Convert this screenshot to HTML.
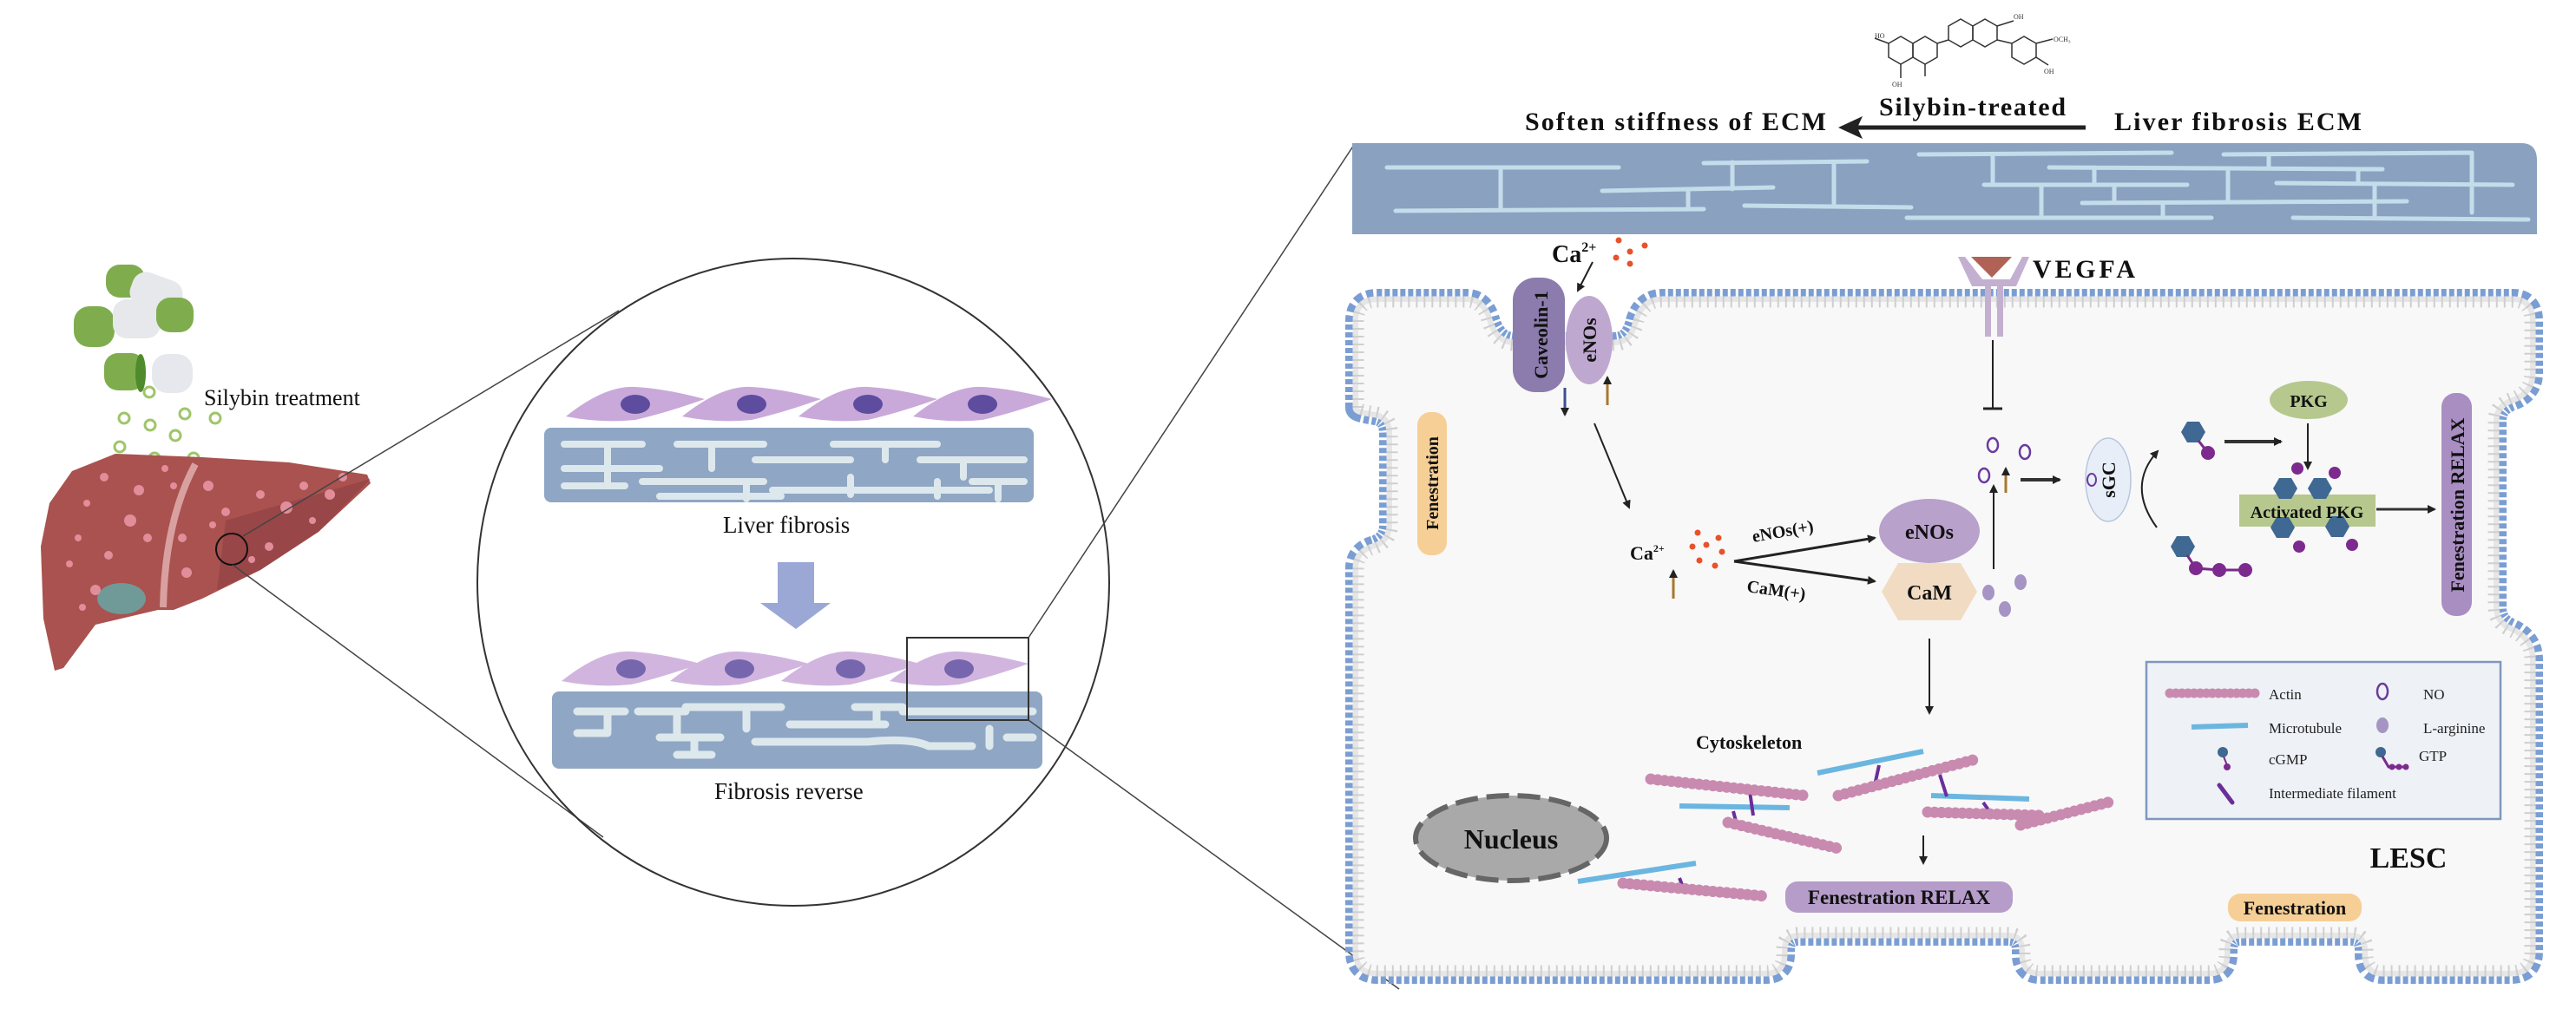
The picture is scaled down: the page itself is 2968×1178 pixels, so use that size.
<!DOCTYPE html>
<html><head><meta charset="utf-8"><style>
html,body{margin:0;padding:0;background:#fff;}
svg{display:block;}
text{font-family:"Liberation Serif",serif;}
</style></head><body>
<svg width="2968" height="1178" viewBox="0 0 2968 1178" xmlns="http://www.w3.org/2000/svg">
<defs>
<marker id="ah" markerWidth="10" markerHeight="10" refX="8" refY="5" orient="auto" markerUnits="userSpaceOnUse"><path d="M0,0 L10,5 L0,10 Z" fill="#222"/></marker>
<g id="hex"><polygon points="-14,0 -7,-12 7,-12 14,0 7,12 -7,12" fill="#3f6892"/></g>
<g id="cell"><path d="M-80,14 Q-35,-22 0,-20 Q35,-18 80,-6 Q35,10 0,18 Q-40,22 -80,14Z" fill="#c9a9da"/><ellipse cx="0" cy="0" rx="17" ry="11" fill="#5e4c9f"/></g>
</defs>

<!-- ===== LEFT: liver ===== -->
<g>
<rect x="122" y="305" width="45" height="38" rx="16" fill="#7fad4e"/>
<rect x="150" y="318" width="60" height="40" rx="16" fill="#e6e8eb" transform="rotate(20 180 338)"/>
<rect x="85" y="353" width="47" height="47" rx="18" fill="#7fad4e"/>
<rect x="130" y="345" width="55" height="45" rx="16" fill="#e6e8eb"/>
<rect x="180" y="343" width="43" height="40" rx="16" fill="#7fad4e"/>
<rect x="120" y="407" width="47" height="43" rx="16" fill="#7fad4e"/>
<ellipse cx="162" cy="430" rx="6" ry="22" fill="#4f8b2c"/>
<rect x="175" y="408" width="47" height="45" rx="18" fill="#e6e8ee"/>
<g fill="none" stroke="#9fc56a" stroke-width="3">
<circle cx="172" cy="452" r="6"/><circle cx="143" cy="482" r="6"/><circle cx="173" cy="490" r="6"/><circle cx="213" cy="477" r="6"/><circle cx="248" cy="482" r="6"/><circle cx="202" cy="502" r="6"/><circle cx="138" cy="515" r="6"/><circle cx="178" cy="528" r="6"/><circle cx="223" cy="528" r="6"/>
</g>
<path d="M133,523 L233,527 L333,533 L423,547 L427,557 L367,613 L300,657 L233,690 L200,703 L182,703 L110,720 L73,770 L63,773 L50,713 L47,630 L57,580 L83,543 Z" fill="#a9524f"/>
<path d="M260,600 L427,552 L367,613 L300,657 L250,680 Z" fill="#8f3f45" opacity="0.6"/>
<path d="M225,535 Q190,600 188,700" stroke="#d9a0a0" stroke-width="8" fill="none"/>
<ellipse cx="140" cy="690" rx="28" ry="18" fill="#6f9a98"/>
<g fill="#e28d9a">
<circle cx="120" cy="550" r="5"/><circle cx="160" cy="565" r="6"/><circle cx="100" cy="580" r="4"/><circle cx="150" cy="600" r="7"/><circle cx="90" cy="620" r="4"/><circle cx="170" cy="620" r="5"/><circle cx="125" cy="640" r="5"/><circle cx="200" cy="560" r="4"/><circle cx="240" cy="560" r="6"/><circle cx="260" cy="590" r="5"/><circle cx="300" cy="570" r="5"/><circle cx="330" cy="585" r="7"/><circle cx="350" cy="560" r="5"/><circle cx="380" cy="570" r="6"/><circle cx="395" cy="550" r="5"/><circle cx="310" cy="630" r="5"/><circle cx="290" cy="645" r="4"/><circle cx="210" cy="620" r="5"/><circle cx="215" cy="660" r="6"/><circle cx="110" cy="680" r="6"/><circle cx="95" cy="700" r="4"/><circle cx="80" cy="650" r="4"/><circle cx="190" cy="540" r="4"/><circle cx="360" cy="600" r="4"/><circle cx="245" cy="605" r="4"/>
</g>
<circle cx="267" cy="633" r="18" fill="none" stroke="#111" stroke-width="2"/>
</g>
<text x="235" y="467" font-size="26" fill="#111">Silybin treatment</text>

<line x1="280" y1="618" x2="713" y2="358" stroke="#444" stroke-width="1.5"/>
<line x1="268" y1="651" x2="695" y2="965" stroke="#444" stroke-width="1.5"/>

<!-- ===== MIDDLE circle ===== -->
<ellipse cx="914" cy="671" rx="364" ry="373" fill="none" stroke="#333" stroke-width="2"/>
<use href="#cell" x="732" y="466"/><use href="#cell" x="866" y="466"/><use href="#cell" x="1000" y="466"/><use href="#cell" x="1132" y="466"/>
<rect x="627" y="493" width="564" height="86" rx="8" fill="#8fa6c4"/>
<g stroke="#dde8ec" stroke-width="8" stroke-linecap="round" fill="none">
<path d="M650,512 H740 M700,512 V540 M650,540 H760 M780,512 H880 M820,512 V540 M870,530 H980 M960,512 H1080 M1020,512 V530 M1060,530 H1180 M1110,530 V550 M650,560 H720 M700,540 V560 M740,555 H880 M860,555 V575 M760,572 H900 M890,565 H1010 M980,550 V570 M1010,565 H1140 M1080,555 V572 M1120,555 H1180 M1150,555 V575"/>
</g>
<text x="833" y="614" font-size="27" fill="#111">Liver fibrosis</text>
<path d="M896,648 H938 V695 H957 L917,725 L876,695 H896 Z" fill="#9ba8d6"/>
<g opacity="0.85"><use href="#cell" x="727" y="771"/><use href="#cell" x="852" y="771"/><use href="#cell" x="980" y="771"/><use href="#cell" x="1105" y="771"/></g>
<rect x="636" y="797" width="565" height="89" rx="8" fill="#8fa6c4"/>
<g stroke="#dde8ec" stroke-width="9" stroke-linecap="round" fill="none">
<path d="M665,820 H720 M700,820 V842 M735,820 H790 M780,820 V850 M760,850 H830 M790,815 H900 M860,820 V840 M910,835 H1020 M985,815 H1040 M1010,815 V835 M1040,820 H1190 M665,845 H700 M870,855 H1000 Q1050,850 1070,860 H1120 M1140,840 V860 M1160,850 H1190 M780,870 H820 M800,850 V870"/>
</g>
<rect x="1045" y="735" width="140" height="95" fill="none" stroke="#333" stroke-width="2"/>
<text x="823" y="921" font-size="27" fill="#111">Fibrosis reverse</text>

<line x1="1185" y1="735" x2="1560" y2="167" stroke="#444" stroke-width="1.5"/>
<line x1="1185" y1="830" x2="1612" y2="1140" stroke="#444" stroke-width="1.5"/>

<!-- ===== RIGHT panel ===== -->
<g fill="none" stroke="#333" stroke-width="1.5">
<polygon points="2176,50 2190,42 2204,50 2204,66 2190,74 2176,66"/>
<polygon points="2204,50 2218,42 2232,50 2232,66 2218,74 2204,66"/>
<polygon points="2245,30 2259,22 2273,30 2273,46 2259,54 2245,46"/>
<polygon points="2273,30 2287,22 2301,30 2301,46 2287,54 2273,46"/>
<polygon points="2318,50 2332,42 2346,50 2346,66 2332,74 2318,66"/>
<path d="M2232,50 L2245,46 M2301,46 L2318,50 M2301,30 L2320,24 M2346,50 L2365,45 M2346,66 L2360,75 M2190,74 V90 M2218,74 V88 M2176,50 L2160,44"/>
</g>
<text x="2160" y="44" font-size="8" fill="#333">HO</text><text x="2320" y="22" font-size="8" fill="#333">OH</text><text x="2366" y="48" font-size="8" fill="#333">OCH₃</text><text x="2355" y="85" font-size="8" fill="#333">OH</text><text x="2180" y="100" font-size="8" fill="#333">OH</text>

<text x="1757" y="150" font-size="30" font-weight="bold" fill="#111" textLength="347">Soften stiffness of ECM</text>
<text x="2165" y="133" font-size="30" font-weight="bold" fill="#111" textLength="215">Silybin-treated</text>
<line x1="2403" y1="147" x2="2140" y2="147" stroke="#222" stroke-width="5"/>
<path d="M2118,147 L2146,134 L2140,147 L2146,160 Z" fill="#222"/>
<text x="2436" y="150" font-size="30" font-weight="bold" fill="#111" textLength="285">Liver fibrosis ECM</text>

<path d="M1558,165 H2905 Q2923,165 2923,185 V270 H1558 Z" fill="#8aa1c0"/>
<g stroke="#c5dcea" stroke-width="5" stroke-linecap="round" fill="none">
<path d="M1598,193 H1865 M1729,193 V241 M1608,243 L1963,241 M1846,220 L2043,216 M1945,218 V241 M1963,188 L2151,186 M1996,187 V218 M2113,187 V237 M2010,237 L2202,239 M2211,178 L2502,176 M2296,178 V213 M2286,213 H2520 M2197,251 H2548 M2352,213 V251 M2361,193 L2745,195 M2413,193 V213 M2399,234 L2773,232 M2436,213 V234 M2492,234 V251 M2562,178 L2848,176 M2614,178 V193 M2567,195 V232 M2623,211 L2895,213 M2717,195 V211 M2736,213 V251 M2642,251 L2913,253 M2848,176 V245"/>
</g>

<path id="mem" d="M1565,470 V370 Q1565,348 1587,348 H1690 Q1705,348 1712,365 Q1720,398 1745,398 H1860 Q1882,398 1888,370 Q1895,348 1915,348 H2895 Q2915,348 2915,370 V430 Q2915,450 2895,458 Q2873,465 2873,485 V700 Q2873,720 2893,728 Q2915,738 2915,760 V1097 Q2915,1119 2893,1119 H2745 Q2728,1119 2728,1100 V1095 Q2728,1075 2708,1075 H2582 Q2563,1075 2563,1095 V1100 Q2563,1119 2545,1119 H2350 Q2333,1119 2333,1100 V1095 Q2333,1075 2313,1075 H2073 Q2053,1075 2053,1095 V1100 Q2053,1119 2035,1119 H1587 Q1565,1119 1565,1097 V655 Q1565,637 1585,632 Q1604,625 1604,605 V500 Q1604,478 1585,475 Q1565,472 1565,470 Z" fill="#f8f8f8"/>
<use href="#mem" fill="none" stroke="#7a9ed3" stroke-width="30" stroke-dasharray="6 3"/>
<use href="#mem" fill="none" stroke="#e6e6e6" stroke-width="13"/>
<use href="#mem" fill="none" stroke="#cfcfcf" stroke-width="13" stroke-dasharray="2 7"/>

<text x="1788" y="302" font-size="28" font-weight="bold" fill="#111">Ca<tspan font-size="16" dy="-12">2+</tspan></text>
<g fill="#e8522a"><circle cx="1865" cy="277" r="3.5"/><circle cx="1895" cy="283" r="3.5"/><circle cx="1862" cy="297" r="3.5"/><circle cx="1878" cy="290" r="3.5"/><circle cx="1878" cy="304" r="3.5"/></g>
<line x1="1835" y1="302" x2="1818" y2="335" stroke="#222" stroke-width="2" marker-end="url(#ah)"/>

<rect x="1743" y="320" width="60" height="132" rx="26" fill="#8b7cad"/>
<text transform="translate(1783,386) rotate(-90)" font-size="22" font-weight="bold" text-anchor="middle" fill="#111">Caveolin-1</text>
<ellipse cx="1831" cy="392" rx="27" ry="51" fill="#bfa8cf"/>
<text transform="translate(1839,392) rotate(-90)" font-size="22" font-weight="bold" text-anchor="middle" fill="#111">eNOs</text>
<line x1="1803" y1="447" x2="1803" y2="478" stroke="#3d4f92" stroke-width="3" marker-end="url(#ah)"/>
<line x1="1852" y1="467" x2="1852" y2="435" stroke="#a8782e" stroke-width="3" marker-end="url(#ah)"/>
<line x1="1837" y1="488" x2="1877" y2="585" stroke="#222" stroke-width="2" marker-end="url(#ah)"/>

<rect x="1633" y="475" width="34" height="165" rx="15" fill="#f6cf96"/>
<text transform="translate(1657,557) rotate(-90)" font-size="20" font-weight="bold" text-anchor="middle" fill="#111">Fenestration</text>

<path d="M2256,296 L2272,330 L2287,330 L2287,388 L2294,388 L2294,330 L2301,330 L2301,388 L2308,388 L2308,330 L2323,330 L2338,296 L2330,296 L2316,322 L2284,322 L2264,296 Z" fill="#c3b0d0"/>
<path d="M2271,296 H2318 L2295,320 Z" fill="#b06256"/>
<text x="2342" y="320" font-size="30" font-weight="bold" fill="#111" textLength="118">VEGFA</text>
<line x1="2296" y1="392" x2="2296" y2="471" stroke="#222" stroke-width="2"/>
<line x1="2285" y1="471" x2="2307" y2="471" stroke="#222" stroke-width="3"/>

<g fill="none" stroke="#6a3aa0" stroke-width="2.5"><ellipse cx="2296" cy="513" rx="6" ry="8"/><ellipse cx="2333" cy="521" rx="6" ry="8"/><ellipse cx="2286" cy="548" rx="6" ry="8"/></g>
<line x1="2311" y1="568" x2="2311" y2="540" stroke="#a8782e" stroke-width="3" marker-end="url(#ah)"/>
<line x1="2297" y1="656" x2="2297" y2="560" stroke="#222" stroke-width="2" marker-end="url(#ah)"/>
<line x1="2328" y1="553" x2="2373" y2="553" stroke="#333" stroke-width="4" marker-end="url(#ah)"/>

<ellipse cx="2429" cy="553" rx="26" ry="48" fill="#e8eef8" stroke="#b8c6dc" stroke-width="1.5"/>
<ellipse cx="2410" cy="553" rx="5" ry="7" fill="none" stroke="#6a3aa0" stroke-width="2"/>
<text transform="translate(2437,553) rotate(-90)" font-size="22" font-weight="bold" text-anchor="middle" fill="#111">sGC</text>
<path d="M2485,608 Q2450,560 2486,520" fill="none" stroke="#222" stroke-width="2" marker-end="url(#ah)"/>

<use href="#hex" x="2527" y="498"/><line x1="2533" y1="508" x2="2544" y2="522" stroke="#7a2a8a" stroke-width="3"/><circle cx="2544" cy="522" r="8" fill="#7d2a8f"/>
<line x1="2563" y1="509" x2="2628" y2="509" stroke="#333" stroke-width="4" marker-end="url(#ah)"/>
<use href="#hex" x="2515" y="630"/>
<path d="M2520,640 L2530,655 L2557,657 L2587,657" fill="none" stroke="#7a2a8a" stroke-width="3"/>
<circle cx="2530" cy="655" r="8" fill="#7d2a8f"/><circle cx="2557" cy="657" r="8" fill="#7d2a8f"/><circle cx="2587" cy="657" r="8" fill="#7d2a8f"/>
<ellipse cx="2660" cy="461" rx="45" ry="22" fill="#b6c88e"/>
<text x="2660" y="469" font-size="20" font-weight="bold" text-anchor="middle" fill="#111">PKG</text>
<line x1="2659" y1="488" x2="2659" y2="540" stroke="#222" stroke-width="2" marker-end="url(#ah)"/>
<rect x="2580" y="570" width="157" height="37" fill="#b6c88e"/>
<g>
<circle cx="2647" cy="540" r="7" fill="#7d2a8f"/><circle cx="2690" cy="545" r="7" fill="#7d2a8f"/><circle cx="2649" cy="630" r="7" fill="#7d2a8f"/><circle cx="2710" cy="628" r="7" fill="#7d2a8f"/>
<use href="#hex" x="2633" y="563"/><use href="#hex" x="2673" y="563"/><use href="#hex" x="2630" y="608"/><use href="#hex" x="2693" y="607"/>
</g>
<text x="2658" y="597" font-size="20" font-weight="bold" text-anchor="middle" fill="#111">Activated PKG</text>
<line x1="2738" y1="587" x2="2805" y2="587" stroke="#333" stroke-width="3" marker-end="url(#ah)"/>
<rect x="2813" y="453" width="35" height="257" rx="16" fill="#a98ec2"/>
<text transform="translate(2839,582) rotate(-90)" font-size="22" font-weight="bold" text-anchor="middle" fill="#111">Fenestration RELAX</text>

<text x="1878" y="645" font-size="22" font-weight="bold" fill="#111">Ca<tspan font-size="12" dy="-9">2+</tspan></text>
<g fill="#e8522a"><circle cx="1956" cy="614" r="3.5"/><circle cx="1980" cy="620" r="3.5"/><circle cx="1950" cy="630" r="3.5"/><circle cx="1966" cy="628" r="3.5"/><circle cx="1984" cy="636" r="3.5"/><circle cx="1958" cy="646" r="3.5"/><circle cx="1976" cy="652" r="3.5"/></g>
<line x1="1928" y1="690" x2="1928" y2="658" stroke="#a8782e" stroke-width="3" marker-end="url(#ah)"/>
<line x1="1998" y1="647" x2="2160" y2="620" stroke="#222" stroke-width="3" marker-end="url(#ah)"/>
<line x1="1998" y1="647" x2="2160" y2="670" stroke="#222" stroke-width="3" marker-end="url(#ah)"/>
<text transform="translate(2020,625) rotate(-10)" font-size="20" font-weight="bold" fill="#111">eNOs(+)</text>
<text transform="translate(2012,682) rotate(8)" font-size="20" font-weight="bold" fill="#111">CaM(+)</text>
<polygon points="2187,649 2259,649 2278,682 2259,715 2187,715 2168,682" fill="#f1dcc3"/>
<ellipse cx="2223" cy="612" rx="58" ry="37" fill="#b8a1cb"/>
<text x="2223" y="621" font-size="24" font-weight="bold" text-anchor="middle" fill="#111">eNOs</text>
<text x="2223" y="691" font-size="24" font-weight="bold" text-anchor="middle" fill="#111">CaM</text>
<g fill="#a594c4"><ellipse cx="2291" cy="683" rx="7" ry="9"/><ellipse cx="2328" cy="671" rx="7" ry="9"/><ellipse cx="2310" cy="702" rx="7" ry="9"/></g>
<line x1="2223" y1="736" x2="2223" y2="822" stroke="#222" stroke-width="2" marker-end="url(#ah)"/>

<rect x="2473" y="763" width="408" height="181" fill="#eef1f5" stroke="#7f97bd" stroke-width="2.5"/>
<line x1="2500" y1="799" x2="2603" y2="799" stroke="#c98ab0" stroke-width="11" stroke-dasharray="0 7" stroke-linecap="round"/>
<text x="2614" y="806" font-size="17" fill="#222">Actin</text>
<ellipse cx="2745" cy="797" rx="6" ry="9" fill="none" stroke="#6a3aa0" stroke-width="2.5"/><text x="2792" y="806" font-size="17" fill="#222">NO</text>
<line x1="2525" y1="838" x2="2590" y2="836" stroke="#6bb6e0" stroke-width="6"/>
<text x="2614" y="845" font-size="17" fill="#222">Microtubule</text>
<ellipse cx="2745" cy="836" rx="7" ry="9" fill="#a594c4"/><text x="2792" y="845" font-size="17" fill="#222">L-arginine</text>
<circle cx="2561" cy="867" r="6" fill="#3f6892"/><line x1="2562" y1="872" x2="2566" y2="882" stroke="#7a2a8a" stroke-width="2"/><circle cx="2566" cy="884" r="4" fill="#7d2a8f"/>
<text x="2614" y="881" font-size="17" fill="#222">cGMP</text>
<circle cx="2743" cy="867" r="6" fill="#3f6892"/><path d="M2745,872 L2752,884 H2772" stroke="#7a2a8a" stroke-width="3" fill="none"/><circle cx="2756" cy="884" r="3.5" fill="#7d2a8f"/><circle cx="2764" cy="884" r="3.5" fill="#7d2a8f"/><circle cx="2772" cy="884" r="3.5" fill="#7d2a8f"/>
<text x="2787" y="877" font-size="17" fill="#222">GTP</text>
<line x1="2557" y1="905" x2="2572" y2="925" stroke="#6a2e9a" stroke-width="5" stroke-linecap="round"/>
<text x="2614" y="920" font-size="17" fill="#222">Intermediate filament</text>

<text x="1954" y="863" font-size="22" font-weight="bold" fill="#111">Cytoskeleton</text>
<g stroke="#6bb6e0" stroke-width="6">
<line x1="2094" y1="891" x2="2216" y2="866"/><line x1="1935" y1="929" x2="2062" y2="931"/><line x1="2225" y1="917" x2="2338" y2="921"/><line x1="1818" y1="1016" x2="1954" y2="995"/>
</g>
<g stroke="#6a2e9a" stroke-width="4">
<line x1="2165" y1="882" x2="2160" y2="905"/><line x1="2016" y1="912" x2="2020" y2="940"/><line x1="2235" y1="893" x2="2243" y2="918"/><line x1="2285" y1="925" x2="2297" y2="942"/><line x1="1997" y1="935" x2="2001" y2="950"/><line x1="1935" y1="1012" x2="1940" y2="1025"/>
</g>
<g stroke="#c98ab0" stroke-width="13" stroke-dasharray="0 8" stroke-linecap="round" fill="none">
<line x1="1902" y1="898" x2="2080" y2="917"/><line x1="2118" y1="917" x2="2277" y2="875"/><line x1="2221" y1="936" x2="2352" y2="940"/><line x1="2328" y1="951" x2="2436" y2="923"/><line x1="1991" y1="948" x2="2118" y2="978"/><line x1="1870" y1="1018" x2="2034" y2="1033"/>
</g>
<ellipse cx="1741" cy="966" rx="110" ry="49" fill="#a9a9a9" stroke="#666" stroke-width="6" stroke-dasharray="26 10"/>
<text x="1741" y="978" font-size="32" font-weight="bold" text-anchor="middle" fill="#111">Nucleus</text>
<line x1="2216" y1="963" x2="2216" y2="995" stroke="#222" stroke-width="2" marker-end="url(#ah)"/>
<rect x="2057" y="1016" width="262" height="36" rx="14" fill="#b59cc9"/>
<text x="2188" y="1042" font-size="23" font-weight="bold" text-anchor="middle" fill="#111">Fenestration RELAX</text>
<text x="2775" y="1000" font-size="34" font-weight="bold" text-anchor="middle" fill="#111">LESC</text>
<rect x="2567" y="1030" width="154" height="32" rx="14" fill="#f6cf96"/>
<text x="2644" y="1054" font-size="22" font-weight="bold" text-anchor="middle" fill="#111">Fenestration</text>
</svg>
</body></html>
